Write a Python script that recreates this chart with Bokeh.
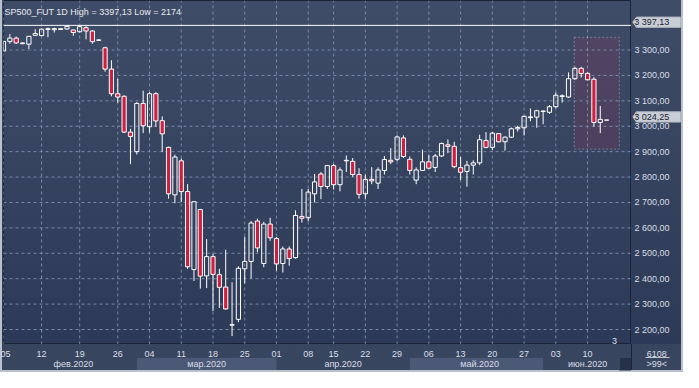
import numpy as np
from bokeh.plotting import figure
from bokeh.models import (Range1d, FixedTicker, Span, Label, BoxAnnotation,
                          ColumnDataSource)
from bokeh.layouts import column, row
from bokeh.embed import file_html
from bokeh.resources import INLINE
from bokeh.core.properties import value

# ---------------- data (daily bars, index = trading bar) ----------------
opens = [3296, 3334, 3347, 3325, 3323, 3358, 3357, 3381, 3380, 3381,
         3383, 3379, 3372, 3388, 3375, 3338, 3309, 3225, 3128, 3118,
         2977, 2900, 3090, 2998, 3128, 3022, 2917, 2730, 2864, 2743,
         2436, 2672, 2411, 2487, 2416, 2367, 2217, 2240, 2439, 2468,
         2627, 2460, 2615, 2558, 2460, 2517, 2483, 2645, 2640, 2734,
         2812, 2763, 2845, 2770, 2864, 2862, 2810, 2734, 2791, 2776,
         2826, 2866, 2870, 2954, 2870, 2788, 2826, 2860, 2838, 2883,
         2927, 2921, 2837, 2822, 2847, 2856, 2944, 2917, 2971, 2939,
         2957, 2990, 2994, 3034, 3036, 3058, 3055, 3077, 3117, 3115,
         3187, 3228, 3208, 3185, 3015, 3024.25]
highs = [3337, 3363, 3353, 3330, 3355, 3382, 3385, 3388, 3388, 3385,
         3397.13, 3380, 3395, 3394, 3378, 3342, 3313, 3260, 3187, 3122,
         2990, 3095, 3140, 3134, 3134, 3039, 2920, 2888, 2873, 2772,
         2705, 2675, 2556, 2498, 2439, 2514, 2386, 2449, 2565, 2627,
         2636, 2624, 2640, 2564, 2527, 2527, 2669, 2753, 2753, 2812,
         2820, 2848, 2851, 2838, 2885, 2875, 2835, 2810, 2839, 2838,
         2883, 2914, 2964, 2964, 2881, 2838, 2908, 2888, 2891, 2936,
         2948, 2939, 2879, 2864, 2866, 2967, 2977, 2977, 2973, 2960,
         2995, 3002, 3042, 3070, 3065, 3062, 3083, 3133, 3126, 3212,
         3234, 3234, 3212, 3193, 3080, 3024.25]
lows = [3295, 3325, 3324, 3323, 3304, 3356, 3355, 3350, 3369, 3380,
        3380, 3356, 3369, 3342, 3325, 3336, 3215, 3118, 3093, 2973,
        2851, 2889, 2973, 2975, 2998, 2899, 2715, 2697, 2702, 2438,
        2391, 2361, 2363, 2273, 2285, 2278, 2174, 2229, 2382, 2401,
        2504, 2445, 2549, 2432, 2424, 2451, 2479, 2621, 2627, 2700,
        2713, 2753, 2751, 2744, 2820, 2801, 2715, 2715, 2772, 2753,
        2810, 2851, 2862, 2875, 2810, 2772, 2824, 2831, 2820, 2879,
        2894, 2835, 2788, 2762, 2810, 2847, 2913, 2907, 2936, 2904,
        2954, 2979, 2964, 3020, 2994, 3008, 3049, 3071, 3093, 3111,
        3183, 3192, 3181, 2998, 2973, 3024.25]
closes = [3334, 3347, 3328, 3328, 3354, 3365, 3382, 3384, 3384, 3384,
          3393, 3369, 3392, 3375, 3333, 3340, 3225, 3128, 3115, 2977,
          2960, 3090, 3002, 3128, 3021, 2970, 2734, 2879, 2743, 2447,
          2703, 2410, 2487, 2417, 2366, 2281, 2219, 2441, 2468, 2619,
          2521, 2615, 2561, 2458, 2517, 2479, 2649, 2638, 2741, 2781,
          2763, 2845, 2770, 2828, 2866, 2810, 2732, 2791, 2785, 2828,
          2869, 2860, 2958, 2881, 2826, 2828, 2860, 2835, 2883, 2932,
          2921, 2841, 2819, 2847, 2856, 2947, 2917, 2973, 2939, 2957,
          2990, 2995, 3039, 3037, 3061, 3060, 3077, 3122, 3120, 3187,
          3228, 3208, 3183, 3015, 3027, 3024.25]

day_ticks = [0, 6, 12, 18, 23, 28, 33, 38, 43, 48, 52, 57, 62, 67, 72, 77, 82, 87, 92]
day_labels = ["05", "12", "19", "26", "04", "11", "18", "25", "01", "08",
              "15", "22", "29", "06", "13", "20", "27", "03", "10"]
month_labels = ["фев.2020", "мар.2020", "апр.2020", "май.2020", "июн.2020"]
month_label_x = [11, 32, 53.5, 75, 92]
shaded_month_start = [21, 64]
shaded_month_end = [43, 85]

price_ticks = [2200, 2300, 2400, 2500, 2600, 2700, 2800, 2900, 3000, 3100, 3200, 3300]
price_labels = ["2 200,00", "2 300,00", "2 400,00", "2 500,00", "2 600,00", "2 700,00",
                "2 800,00", "2 900,00", "3 000,00", "3 100,00", "3 200,00", "3 300,00"]

title_text = "SP500_FUT 1D High = 3397,13 Low = 2174"
marker_values = [3397.13, 3024.25]          # high and last price
marker_labels = ["3 397,13", "3 024,25"]
high_value = marker_values[0]
sel_left, sel_right, sel_top, sel_bottom = 89.9, 97.0, 3350, 2910
scroll_slot_left = 97.0
volume_text = "6108"
volume_sub = ">99<"
corner_count = "3"

# ---------------- styling ----------------
FONT = "Liberation Sans"
TXT = "#d9dee6"
RED = "#cf1f40"
GRID = "#8090b0"
DARK_LINE = "#1b2337"
EDGE = "#b9c1cc"
GRAD = "linear-gradient(to bottom, #3f4c68 0%, #36435f 50%, #2d3a57 100%)"
STRIP_BG = "#38455f"
BOTTOM_EDGE = f"linear-gradient(to top, {EDGE} 0px, {EDGE} 2px, transparent 2px)"

x = list(range(len(opens)))
body_top = [max(o, c) for o, c in zip(opens, closes)]
body_bot = [min(o, c) for o, c in zip(opens, closes)]
is_up = [c >= o for o, c in zip(opens, closes)]

def subset(mask):
    idx = [i for i, m in enumerate(mask) if m]
    return ColumnDataSource(dict(
        x=[x[i] for i in idx], top=[body_top[i] for i in idx],
        bot=[body_bot[i] for i in idx], hi=[highs[i] for i in idx],
        lo=[lows[i] for i in idx]))

src_up = subset(is_up)
src_dn = subset([not u for u in is_up])

W_MAIN, W_RIGHT, H_MAIN, H_STRIP = 631, 52, 344, 28
x_range = Range1d(0.0, 98.92)
y_range = Range1d(2141, 3495)
UNITS_PER_PX = (y_range.end - y_range.start) / H_MAIN

def base(width, height, xr, yr, **kw):
    f = figure(width=width, height=height, x_range=xr, y_range=yr,
               toolbar_location=None, output_backend="svg", **kw)
    f.grid.visible = False
    return f

# ---------------- main price panel ----------------
p = base(W_MAIN, H_MAIN, x_range, y_range, x_axis_location=None, y_axis_location=None,
         min_border_left=3, min_border_right=0, min_border_top=0, min_border_bottom=0)
p.background_fill_alpha = 0
p.border_fill_alpha = 0
p.styles = {"background": f"linear-gradient(to right, {EDGE} 0px, {EDGE} 2px, transparent 2px), {GRAD}"}
p.outline_line_color = DARK_LINE

p.add_layout(BoxAnnotation(left=sel_left, right=sel_right, top=sel_top, bottom=sel_bottom,
                           fill_color="#8c325a", fill_alpha=0.25, line_color=None,
                           level="underlay"))

# weekly and price grid lines, drawn through the plot's own scales
p.segment(x0=day_ticks, y0=[y_range.start] * len(day_ticks), x1=day_ticks,
          y1=[y_range.end] * len(day_ticks), line_color=GRID, line_alpha=0.9,
          line_dash="3 3", line_width=1)
p.segment(x0=[x_range.start] * len(price_ticks), y0=price_ticks,
          x1=[x_range.end] * len(price_ticks), y1=price_ticks, line_color=GRID,
          line_alpha=0.9, line_dash="3 3", line_width=1)

p.add_layout(BoxAnnotation(left=sel_left, right=sel_right, top=sel_top, bottom=sel_bottom,
                           fill_alpha=0, line_color="white", line_dash="2 2", line_width=1))

for src, fill, alpha in ((src_up, "white", 0.0), (src_dn, RED, 1.0)):
    p.segment(x0="x", y0="hi", x1="x", y1="top", source=src, line_color="white", line_width=1)
    p.segment(x0="x", y0="bot", x1="x", y1="lo", source=src, line_color="white", line_width=1)
    p.vbar(x="x", width=0.66, top="top", bottom="bot", source=src,
           fill_color=fill, fill_alpha=alpha, line_color="white", line_width=1)

p.add_layout(Span(location=high_value, dimension="width", line_color="white", line_width=1))

p.add_layout(Label(x=1, y=H_MAIN - 11, x_units="screen", y_units="screen", text=title_text,
                   text_font=FONT, text_font_size="9px", text_color="#e6e9ee",
                   text_baseline="middle"))
p.add_layout(Label(x=611, y=4, x_units="screen", y_units="screen", text=corner_count,
                   text_font=FONT, text_font_size="9px", text_color=TXT,
                   text_align="center", text_baseline="middle"))

# ---------------- right price scale ----------------
r = base(W_RIGHT, H_MAIN, Range1d(0, W_RIGHT - 2), y_range, x_axis_location=None,
         y_axis_location=None, min_border_left=0, min_border_right=2,
         min_border_top=0, min_border_bottom=0)
r.background_fill_alpha = 0
r.border_fill_alpha = 0
r.outline_line_color = None
r.styles = {"background": f"linear-gradient(to left, {EDGE} 0px, {EDGE} 2px, transparent 2px), {GRAD}"}
r.text(x=[3] * len(price_ticks), y=price_ticks, text=price_labels,
       text_font=value(FONT), text_font_size="9px", text_color=TXT,
       text_align="left", text_baseline="middle")

up_off = 3.2 * UNITS_PER_PX
box_src = ColumnDataSource(dict(
    txt=marker_labels,
    top=[v + 8.3 * UNITS_PER_PX for v in marker_values],
    bot=[v - 2.0 * UNITS_PER_PX for v in marker_values],
    ty=[v + up_off for v in marker_values],
    ax=[[1.4, 5, 5] for v in marker_values],
    ay=[[v + up_off, v + 8.3 * UNITS_PER_PX, v - 2.0 * UNITS_PER_PX] for v in marker_values]))
r.patches(xs="ax", ys="ay", source=box_src, fill_color="#c9ced6", line_color="#c9ced6")
r.quad(left=5, right=W_RIGHT - 3, top="top", bottom="bot", source=box_src,
       fill_color="#c9ced6", line_color="#aeb5c0", line_width=1)
r.text(x=2.8, y="ty", text="txt", source=box_src, text_font=value(FONT),
       text_font_size="9px", text_color="#1c2233", text_align="left",
       text_baseline="middle")

# ---------------- date strip ----------------
s = base(W_MAIN, H_STRIP, x_range, Range1d(0, 1), x_axis_location="above",
         y_axis_location=None, min_border_left=3, min_border_right=0,
         min_border_top=13, min_border_bottom=0)
s.background_fill_alpha = 0
s.border_fill_alpha = 0
s.styles = {"background": (f"linear-gradient(to right, {EDGE} 0px, {EDGE} 2px, transparent 2px), "
                           f"{BOTTOM_EDGE}, {STRIP_BG}")}
s.outline_line_color = None
xa = s.xaxis[0]
xa.ticker = FixedTicker(ticks=day_ticks)
xa.major_label_overrides = dict(zip(day_ticks, day_labels))
xa.axis_line_color = None
xa.major_tick_line_color = None
xa.minor_tick_line_color = None
xa.major_tick_out = 0
xa.major_tick_in = 0
xa.major_label_standoff = 1
xa.major_label_text_font = FONT
xa.major_label_text_font_size = "9px"
xa.major_label_text_color = TXT
s.quad(left=shaded_month_start, right=shaded_month_end, top=0.99, bottom=0.17,
       fill_color="#4b5876", line_color=None)
s.add_layout(BoxAnnotation(left=scroll_slot_left, bottom=0.14, fill_color="#263047",
                           fill_alpha=1, line_color="#6b7891", line_width=1))
s.text(x=month_label_x, y=[0.56] * len(month_label_x), text=month_labels,
       text_font=value(FONT), text_font_size="9px", text_color=TXT,
       text_align="center", text_baseline="middle")

# ---------------- bottom-right corner ----------------
corner_center = 25.3
c = base(W_RIGHT, H_STRIP, Range1d(0, W_RIGHT - 2), Range1d(0, 1), x_axis_location="above",
         y_axis_location=None, min_border_left=0, min_border_right=2,
         min_border_top=13, min_border_bottom=0)
c.background_fill_alpha = 0
c.border_fill_alpha = 0
c.styles = {"background": (f"linear-gradient(to left, {EDGE} 0px, {EDGE} 2px, transparent 2px), "
                           f"{BOTTOM_EDGE}, linear-gradient(to right, {DARK_LINE} 0px, "
                           f"{DARK_LINE} 1px, transparent 1px), {STRIP_BG}")}
c.outline_line_color = None
ca = c.xaxis[0]
ca.ticker = FixedTicker(ticks=[corner_center])
ca.major_label_overrides = {corner_center: volume_text}
ca.axis_line_color = "#c0c6d0"
ca.bounds = (13.8, 38.2)
ca.major_tick_line_color = None
ca.minor_tick_line_color = None
ca.major_tick_out = 0
ca.major_tick_in = 0
ca.major_label_standoff = 1
ca.major_label_text_font = FONT
ca.major_label_text_font_size = "9px"
ca.major_label_text_color = TXT
c.text(x=[corner_center], y=[0.56], text=[volume_sub],
       text_font=value(FONT), text_font_size="9px", text_color=TXT,
       text_align="center", text_baseline="middle")

layout = column(row(p, r, spacing=0), row(s, c, spacing=0), spacing=0)
open("out.html", "w").write(file_html(layout, INLINE))
